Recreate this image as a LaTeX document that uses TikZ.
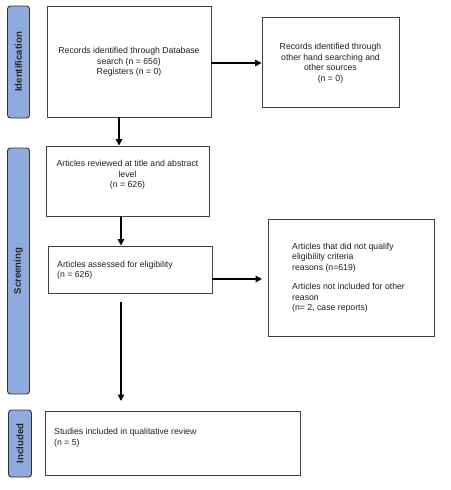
\documentclass[tikz,border=0pt]{standalone}
\usepackage{fontspec}
\setmainfont{Liberation Sans}
\usetikzlibrary{arrows.meta}
\definecolor{sideblue}{HTML}{8FAADC}
\definecolor{boxgray}{HTML}{404040}
\definecolor{txtgray}{HTML}{202020}
\begin{document}
\begin{tikzpicture}[x=1pt,y=-1pt,
  box/.style={draw=boxgray,line width=0.9pt,minimum width=#1,inner sep=0pt,fill=white},
  side/.style={draw=black!80,line width=0.9pt,fill=sideblue,rounded corners=3pt,inner sep=0pt},
  sidetext/.style={rotate=90,font=\fontsize{9.6}{10}\selectfont\bfseries,text=black!85},
  txt/.style={font=\fontsize{8.7}{10.5}\selectfont,text=txtgray,inner sep=0pt},
  arr/.style={line width=1.4pt,-{Triangle[length=6.5pt,width=6.5pt]}}]
\useasboundingbox (0,0) rectangle (450,490);
% side labels
\node[side,minimum width=22pt,minimum height=112pt] (sid) at (18.5,62) {};
\node[sidetext] (sidt) at (sid.center) {Identification};
\node[side,minimum width=22pt,minimum height=246pt] (sscr) at (18.5,271) {};
\node[sidetext] (sscrt) at (sscr.center) {Screening};
\node[side,minimum width=23pt,minimum height=67pt] (sinc) at (20,443.5) {};
\node[sidetext] (sinct) at (sinc.center) {Included};
% boxes
\node[box=164pt,minimum height=111pt] (b1) at (129,61.5) {};
\node[txt,align=center] (t1) at (129,62) {Records identified through Database\\search (n = 656)\\Registers (n = 0)};
\node[box=137pt,minimum height=90pt] (b2) at (330.5,62) {};
\node[txt,align=center] (t2) at (330.5,63) {Records identified through\\other hand searching and\\other sources\\(n = 0)};
\node[box=163pt,minimum height=70pt] (b3) at (127.5,181) {};
\node[txt,align=center] (t3) at (127.5,175) {Articles reviewed at title and abstract\\level\\(n = 626)};
\node[box=164pt,minimum height=47pt] (b4) at (130,269.5) {};
\node[txt,align=left,anchor=west] (t4) at (57,270) {Articles assessed for eligibility\\(n = 626)};
\node[box=166pt,minimum height=117pt] (b5) at (351,277.5) {};
\node[txt,align=left,anchor=west] (t5) at (292,277.5) {Articles that did not qualify\\eligibility criteria\\reasons (n=619)\\[9pt]Articles not included for other\\reason\\(n= 2, case reports)};
\node[box=255pt,minimum height=64pt] (b6) at (172.5,443) {};
\node[txt,align=left,anchor=west] (t6) at (54,437.5) {Studies included in qualitative review\\(n = 5)};
% connectors
\coordinate (c12) at (211,63);
\draw[arr] (c12) -- (c12 -| b2.west);
\coordinate (c13) at (119,117);
\draw[arr] (c13) -- (c13 |- b3.north);
\coordinate (c34) at (121,216);
\draw[arr] (c34) -- (c34 |- b4.north);
\coordinate (c45) at (212,279);
\coordinate (c45e) at (262,279);
\draw[arr] (c45) -- (c45e);
\coordinate (c46) at (121,302);
\coordinate (c46e) at (121,401);
\draw[arr] (c46) -- (c46e);
\end{tikzpicture}
\end{document}
